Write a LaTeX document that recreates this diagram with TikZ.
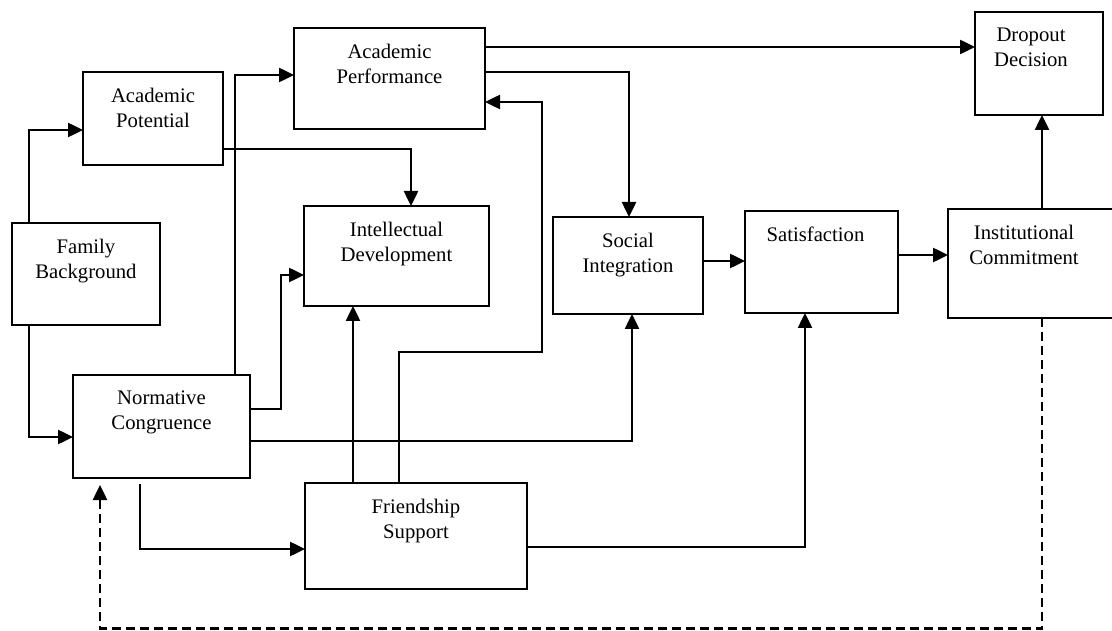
\documentclass[tikz,border=0pt]{standalone}
\usepackage{fontspec}
\setmainfont{Liberation Serif}
\usetikzlibrary{arrows.meta}

\tikzset{
    box/.style={draw, line width=2.5pt, anchor=north west, inner sep=0pt, outer sep=0pt},
    txt/.style={align=center, anchor=north, inner sep=0pt, font=\fontsize{20.7}{25}\selectfont},
    arr/.style={line width=2.5pt, -{Triangle[length=15pt,width=14pt]}},
}

\begin{document}
\begin{tikzpicture}[x=1pt, y=-1pt]
    \useasboundingbox (0,0) rectangle (1112,631);

    \node[box, minimum width=148pt, minimum height=102pt] (fb) at (12,223) {};
    \node[box, minimum width=140pt, minimum height=93pt] (apot) at (83,72) {};
    \node[box, minimum width=177pt, minimum height=103pt] (nc) at (73,375) {};
    \node[box, minimum width=191pt, minimum height=101pt] (aperf) at (294,28) {};
    \node[box, minimum width=185pt, minimum height=100pt] (idev) at (304,206) {};
    \node[box, minimum width=222pt, minimum height=106pt] (fs) at (305,483) {};
    \node[box, minimum width=150pt, minimum height=97pt] (si) at (553,217) {};
    \node[box, minimum width=153pt, minimum height=102pt] (sat) at (745,211) {};
    \node[box, minimum width=170pt, minimum height=109pt] (ic) at (948,209) {};
    \node[box, minimum width=128pt, minimum height=103pt] (dd) at (975,12) {};

    \node[txt] (fb-t) at ([yshift=-16pt]fb.north) {Family\\Background};
    \node[txt] (apot-t) at ([yshift=-16pt]apot.north) {Academic\\Potential};
    \node[txt] (nc-t) at ([yshift=-16pt]nc.north) {Normative\\Congruence};
    \node[txt] (aperf-t) at ([yshift=-16pt]aperf.north) {Academic\\Performance};
    \node[txt] (idev-t) at ([yshift=-16pt]idev.north) {Intellectual\\Development};
    \node[txt] (fs-t) at ([yshift=-16pt]fs.north) {Friendship\\Support};
    \node[txt] (si-t) at ([yshift=-16pt]si.north) {Social\\Integration};
    \node[txt] (sat-t) at ([xshift=-6pt,yshift=-16pt]sat.north) {Satisfaction};
    \node[txt] (ic-t) at ([xshift=-9pt,yshift=-16pt]ic.north) {Institutional\\Commitment};
    \node[txt] (dd-t) at ([xshift=-8pt,yshift=-16pt]dd.north) {Dropout\\Decision};

    \draw[arr] ([xshift=17pt]fb.north west) |- ([yshift=-11.5pt]apot.west);
    \draw[arr] ([xshift=17pt]fb.south west) |- ([yshift=-10.5pt]nc.west);
    \draw[arr] ([yshift=-30.5pt]apot.east) -| ([xshift=14.5pt]idev.north);
    \draw[arr] ([xshift=73.5pt]nc.north) |- ([yshift=3.5pt]aperf.west);
    \draw[arr] ([yshift=17.5pt]nc.east) -- ++(31,0) |- ([yshift=-19pt]idev.west);
    \draw[arr] ([yshift=-14.5pt]nc.east) -| ([xshift=4pt]si.south);
    \draw[arr] ([xshift=-21.5pt,yshift=-6pt]nc.south) |- ([yshift=-13pt]fs.west);
    \draw[arr] ([xshift=-63pt]fs.north) -- ([xshift=-63pt]fs.north |- idev.south);
    \draw[arr] ([xshift=-17pt]fs.north) -- ++(0,-131) -- ++(143,0) |- ([yshift=-23.5pt]aperf.east);
    \draw[arr] ([yshift=31.5pt]aperf.east) -- ([yshift=31.5pt]aperf.east -| dd.west);
    \draw[arr] ([yshift=6.5pt]aperf.east) -| ([xshift=1pt]si.north);
    \draw[arr] ([yshift=4.5pt]si.east) -- ([yshift=4.5pt]si.east -| sat.west);
    \draw[arr] ([yshift=7pt]sat.east) -- ([yshift=7pt]sat.east -| ic.west);
    \draw[arr] ([yshift=-11pt]fs.east) -| ([xshift=-16.5pt]sat.south);
    \draw[arr] ([xshift=3pt]dd.south |- ic.north) -- ([xshift=3pt]dd.south);
    \draw[arr, dash pattern=on 9pt off 5pt] ([xshift=3pt]dd.south |- ic.south) -- ++(0,310.5) -| ([xshift=-61.5pt,yshift=-7pt]nc.south);
\end{tikzpicture}
\end{document}
